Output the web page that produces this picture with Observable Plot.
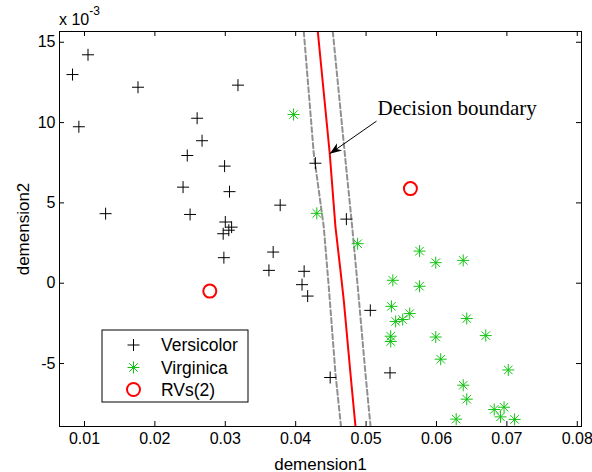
<!DOCTYPE html>
<html>
<head>
<meta charset="utf-8">
<script src="https://cdn.jsdelivr.net/npm/d3@7"></script>
<script src="https://cdn.jsdelivr.net/npm/@observablehq/plot@0.6"></script>
<style>
  html, body { margin: 0; padding: 0; background: white; }
  #wrap { position: relative; width: 592px; height: 472px; }
  #overlay { position: absolute; left: 0; top: 0; pointer-events: none; }
</style>
</head>
<body>
<div id="wrap"></div>
<script>
// ---- Data (x in raw units, y in units of 1e-3) ----
const versicolorX = [0.0105, 0.0083, 0.0176, 0.0318, 0.0092, 0.0260, 0.0267, 0.0246, 0.0299, 0.0240,
  0.0306, 0.0378, 0.0130, 0.0250, 0.0300, 0.0309, 0.0305, 0.0297, 0.0298, 0.0368,
  0.0362, 0.0412, 0.0409, 0.0417, 0.0428, 0.0472, 0.0506, 0.0449, 0.0534];
const versicolorY = [14.22, 12.99, 12.20, 12.33, 9.74, 10.27, 8.87, 7.95, 7.29, 5.98,
  5.70, 4.86, 4.33, 4.28, 3.81, 3.49, 3.30, 3.08, 1.59, 1.94,
  0.80, 0.74, -0.09, -0.80, 7.47, 3.99, -1.69, -5.87, -5.58];
const virginicaX = [0.0397, 0.0430, 0.0488, 0.0576, 0.0599, 0.0638, 0.0538, 0.0576, 0.0536, 0.0542,
  0.0552, 0.0562, 0.0643, 0.0535, 0.0535, 0.0599, 0.0670, 0.0606, 0.0638, 0.0643,
  0.0628, 0.0682, 0.0696, 0.0691, 0.0702, 0.0711];
const virginicaY = [10.50, 4.35, 2.46, 2.00, 1.28, 1.42, 0.18, -0.19, -1.44, -2.38,
  -2.26, -1.89, -2.20, -3.30, -3.63, -3.35, -3.26, -4.73, -6.35, -7.22,
  -8.46, -7.86, -7.72, -8.32, -5.40, -8.48];
const rvX = [0.0278, 0.0563];
const rvY = [-0.49, 5.89];
const boundaryX = [0.04314, 0.04484, 0.04565, 0.04636, 0.04683, 0.04778, 0.04849];
const boundaryY = [15.67, 8.06, 3.50, 0.80, -1.06, -5.62, -8.90];
const marginLowX = [0.04115, 0.04257, 0.04399, 0.04470, 0.04565, 0.04643];
const marginLowY = [15.67, 8.06, 3.50, -0.23, -5.62, -8.90];
const marginHighX = [0.04527, 0.04707, 0.04803, 0.04882, 0.04991, 0.05063];
const marginHighY = [15.67, 7.65, 3.50, -0.23, -5.62, -8.90];
const annotationText = ["Decision boundary"];
const arrowFrom = [0.05148, 10.09];
const arrowTo = [0.04484, 8.06];
const xTicks = [0.01, 0.02, 0.03, 0.04, 0.05, 0.06, 0.07, 0.08];
const yTicks = [15, 10, 5, 0, -5];
const xDomain = [0.00645, 0.0806];
const yDomain = [-8.92, 15.67];
const legendLabels = ["Versicolor", "Virginica", "RVs(2)"];

// ---- Build tables ----
const zip = (xs, ys) => xs.map((x, i) => ({x, y: ys[i]}));
const versicolor = zip(versicolorX, versicolorY);
const virginica = zip(virginicaX, virginicaY);
const rvs = zip(rvX, rvY);
const boundary = zip(boundaryX, boundaryY);
const marginLow = zip(marginLowX, marginLowY);
const marginHigh = zip(marginHighX, marginHighY);

const plusSymbol = {
  draw(ctx, size) {
    const l = Math.sqrt(size / Math.PI);
    ctx.moveTo(-l, 0); ctx.lineTo(l, 0);
    ctx.moveTo(0, -l); ctx.lineTo(0, l);
  }
};
const starSymbol = {
  draw(ctx, size) {
    const l = Math.sqrt(size / Math.PI);
    const d = l * 0.7071;
    ctx.moveTo(-l, 0); ctx.lineTo(l, 0);
    ctx.moveTo(0, -l); ctx.lineTo(0, l);
    ctx.moveTo(-d, -d); ctx.lineTo(d, d);
    ctx.moveTo(-d, d); ctx.lineTo(d, -d);
  }
};
// notched arrow head, tip at origin, pointing up
const headSymbol = {
  draw(ctx, size) {
    const k = Math.sqrt(size / Math.PI) / 6;
    ctx.moveTo(0, 0);
    ctx.lineTo(-4.5 * k, 12 * k);
    ctx.lineTo(0, 8.5 * k);
    ctx.lineTo(4.5 * k, 12 * k);
    ctx.closePath();
  }
};

const W = 592, H = 472, mL = 59, mT = 31, mR = 11, mB = 46;
const innerH = H - mT - mB, innerW = W - mL - mR;
const TK = 5;
const GREEN = "#13c313";
const fontSans = "'Liberation Sans', Arial, sans-serif";

// arrow head orientation from the same scales the plot uses
const sx = Plot.scale({x: {domain: xDomain, range: [mL, W - mR]}});
const sy = Plot.scale({y: {domain: yDomain, range: [H - mB, mT]}});
const adx = sx.apply(arrowTo[0]) - sx.apply(arrowFrom[0]);
const ady = sy.apply(arrowTo[1]) - sy.apply(arrowFrom[1]);
const headAngle = Math.atan2(adx, -ady) * 180 / Math.PI;

const chart = Plot.plot({
  width: W, height: H,
  marginLeft: mL, marginTop: mT, marginRight: mR, marginBottom: mB,
  style: {fontFamily: fontSans, fontSize: "16px", background: "white", color: "black"},
  x: {domain: xDomain},
  y: {domain: yDomain},
  marks: [
    Plot.axisX({ticks: xTicks, tickSize: 0, tickPadding: 6, tickFormat: d => String(+d.toFixed(2)), label: null, fontSize: 16}),
    Plot.axisX({ticks: [], label: "demension1", labelAnchor: "center", labelOffset: 43, labelArrow: "none", fontSize: 17}),
    Plot.axisY({ticks: yTicks, tickSize: 0, tickPadding: 4, tickFormat: d => String(d), label: null, fontSize: 16}),
    Plot.axisY({ticks: [], label: "demension2", labelAnchor: "center", labelOffset: 43, labelArrow: "none", fontSize: 17}),
    Plot.tickX(xTicks, {x: d => d, insetTop: innerH - TK, stroke: "black"}),
    Plot.tickX(xTicks, {x: d => d, insetBottom: innerH - TK, stroke: "black"}),
    Plot.tickY(yTicks, {y: d => d, insetRight: innerW - TK, stroke: "black"}),
    Plot.tickY(yTicks, {y: d => d, insetLeft: innerW - TK, stroke: "black"}),
    Plot.line(marginLow, {x: "x", y: "y", stroke: "#909090", strokeWidth: 2, strokeDasharray: "5,3", clip: true}),
    Plot.line(marginHigh, {x: "x", y: "y", stroke: "#909090", strokeWidth: 2, strokeDasharray: "5,3", clip: true}),
    Plot.line(boundary, {x: "x", y: "y", stroke: "#ff0000", strokeWidth: 2, clip: true}),
    Plot.dot(versicolor, {x: "x", y: "y", symbol: plusSymbol, r: 6, fill: "none", stroke: "black", strokeWidth: 1}),
    Plot.dot(virginica, {x: "x", y: "y", symbol: starSymbol, r: 6, fill: "none", stroke: GREEN, strokeWidth: 1}),
    Plot.dot(rvs, {x: "x", y: "y", r: 6.5, fill: "none", stroke: "#ff0000", strokeWidth: 2}),
    Plot.link([0], {x1: () => arrowFrom[0], y1: () => arrowFrom[1], x2: () => arrowTo[0], y2: () => arrowTo[1],
      stroke: "black", strokeWidth: 1}),
    Plot.dot([0], {x: () => arrowTo[0], y: () => arrowTo[1], symbol: headSymbol, r: 6, rotate: headAngle,
      fill: "black", stroke: "none"}),
    Plot.text(annotationText, {x: () => arrowFrom[0], y: () => arrowFrom[1], text: d => d, textAnchor: "start",
      lineAnchor: "middle", dx: 1, dy: -13, fontFamily: "'Liberation Serif', 'Times New Roman', serif", fontSize: 21, fill: "black"}),
    Plot.frame({stroke: "black", strokeWidth: 1})
  ]
});

const wrap = document.getElementById("wrap");
wrap.appendChild(chart);

// Overlay: exponent label and legend
const ov = d3.select(wrap).append("svg").attr("id", "overlay")
  .attr("width", W).attr("height", H)
  .style("font-family", fontSans);

const expo = ov.append("text").attr("x", mL).attr("y", 25).attr("font-size", 16).attr("fill", "black");
expo.append("tspan").text("x 10");
expo.append("tspan").attr("font-size", 12).attr("dy", -10).text("-3");

const lg = ov.append("g").attr("transform", "translate(102,330)");
lg.append("rect").attr("width", 146).attr("height", 72).attr("fill", "white").attr("stroke", "black").attr("stroke-width", 1);
const rowsY = [15, 37.5, 59.5];
lg.append("path").attr("transform", `translate(31.5,${rowsY[0]})`).attr("d", d3.symbol(plusSymbol, Math.PI * 36)())
  .attr("fill", "none").attr("stroke", "black");
lg.append("path").attr("transform", `translate(31.5,${rowsY[1]})`).attr("d", d3.symbol(starSymbol, Math.PI * 36)())
  .attr("fill", "none").attr("stroke", GREEN);
lg.append("circle").attr("cx", 31.5).attr("cy", rowsY[2]).attr("r", 6.5).attr("fill", "none").attr("stroke", "#ff0000").attr("stroke-width", 2);
legendLabels.forEach((t, i) => {
  lg.append("text").attr("x", 59).attr("y", rowsY[i]).attr("dy", "0.35em").attr("font-size", 17.5).attr("fill", "black").text(t);
});
</script>
</body>
</html>
